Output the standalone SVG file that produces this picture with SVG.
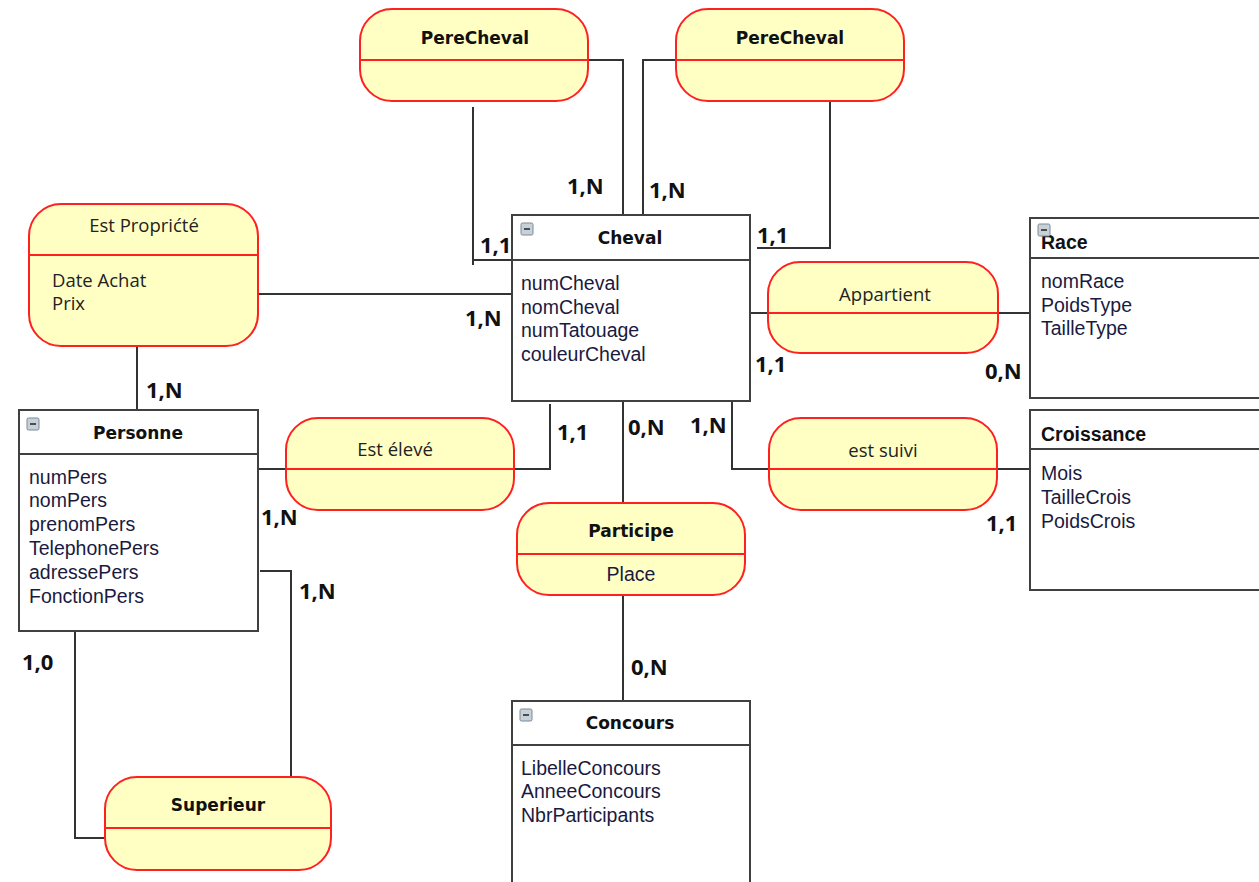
<svg xmlns="http://www.w3.org/2000/svg" width="1259" height="882" viewBox="0 0 1259 882">
<defs>
<style>
.ent{fill:#fff;stroke:#404040;stroke-width:2}
.rel{fill:#ffffc4;stroke:#ff2020;stroke-width:2}
.div{stroke:#ff2020;stroke-width:2}
.hdiv{stroke:#404040;stroke-width:2}
.con{fill:none;stroke:#333;stroke-width:2}
.att{font-family:"Liberation Sans",Arial,sans-serif;font-size:19.5px;fill:#1a1a40}
.rt{font-family:"Open Sans","Noto Sans",sans-serif;font-size:18.5px;fill:#222;text-anchor:middle}
.rb{font-family:"DejaVu Sans",sans-serif;font-weight:bold;font-size:17px;fill:#111;text-anchor:middle}
.eb{font-family:"DejaVu Sans",sans-serif;font-weight:bold;font-size:17px;fill:#111;text-anchor:middle}
.ea{font-family:"Liberation Sans",Arial,sans-serif;font-weight:bold;font-size:19.5px;fill:#111}
.card{font-family:"Open Sans","Noto Sans",sans-serif;font-weight:bold;font-size:22px;fill:#111}
</style>
<g id="minus">
<rect x="0" y="0" width="12" height="12" rx="1.5" fill="#c8d0d8" stroke="#7a8a98" stroke-width="1"/>
<line x1="3" y1="6" x2="9" y2="6" stroke="#222" stroke-width="1.5"/>
</g>
</defs>
<rect width="1259" height="882" fill="#fff"/>

<g id="connectors">
<polyline class="con" points="588,60 623,60 623,215"/>
<polyline class="con" points="473,107 473,265"/>
<polyline class="con" points="473,260 512,260"/>
<polyline class="con" points="676,60 643,60 643,215"/>
<polyline class="con" points="830,101 830,248 757,248"/>
<line class="con" x1="258" y1="294" x2="512" y2="294"/>
<line class="con" x1="137" y1="346" x2="137" y2="410"/>
<polyline class="con" points="258,469 550,469 550,404"/>
<polyline class="con" points="75,628 75,838 105,838"/>
<polyline class="con" points="260,571 291,571 291,780"/>
<line class="con" x1="748" y1="313" x2="1030" y2="313"/>
<polyline class="con" points="732,401 732,469 1030,469"/>
<line class="con" x1="623" y1="401" x2="623" y2="503"/>
<line class="con" x1="623" y1="595" x2="623" y2="701"/>
</g>

<g id="PereCheval1">
<rect class="rel" x="360" y="9" width="228" height="92" rx="32"/>
<line class="div" x1="360" y1="60" x2="588" y2="60"/>
<text class="rb" x="475" y="44">PereCheval</text>
</g>
<g id="PereCheval2">
<rect class="rel" x="676" y="9" width="228" height="92" rx="32"/>
<line class="div" x1="676" y1="60" x2="904" y2="60"/>
<text class="rb" x="790" y="44">PereCheval</text>
</g>

<g id="EstPropriete">
<rect class="rel" x="29" y="204" width="229" height="142" rx="32"/>
<line class="div" x1="29" y1="255" x2="258" y2="255"/>
<text class="rt" x="144" y="232">Est Proprićté</text>
<text class="rt" x="52" y="287" style="text-anchor:start">Date Achat</text>
<text class="rt" x="52" y="310" style="text-anchor:start">Prix</text>
</g>

<g id="Cheval">
<rect class="ent" x="512" y="215" width="238" height="186"/>
<line class="hdiv" x1="512" y1="260" x2="750" y2="260"/>
<use href="#minus" x="521" y="223"/>
<text class="eb" x="630" y="244">Cheval</text>
<text class="att" x="521" y="290">numCheval</text>
<text class="att" x="521" y="314">nomCheval</text>
<text class="att" x="521" y="337">numTatouage</text>
<text class="att" x="521" y="361">couleurCheval</text>
</g>

<g id="Personne">
<rect class="ent" x="19" y="410" width="239" height="221"/>
<line class="hdiv" x1="19" y1="454" x2="258" y2="454"/>
<use href="#minus" x="27" y="418"/>
<text class="eb" x="138" y="439">Personne</text>
<text class="att" x="29" y="484">numPers</text>
<text class="att" x="29" y="507">nomPers</text>
<text class="att" x="29" y="531">prenomPers</text>
<text class="att" x="29" y="555">TelephonePers</text>
<text class="att" x="29" y="579">adressePers</text>
<text class="att" x="29" y="603">FonctionPers</text>
</g>

<g id="EstEleve">
<rect class="rel" x="286" y="418" width="228" height="92" rx="32"/>
<line class="div" x1="286" y1="469" x2="514" y2="469"/>
<text class="rt" x="395" y="456">Est élevé</text>
</g>

<g id="Superieur">
<rect class="rel" x="105" y="777" width="226" height="93" rx="32"/>
<line class="div" x1="105" y1="828" x2="331" y2="828"/>
<text class="rb" x="218" y="811">Superieur</text>
</g>

<g id="Appartient">
<rect class="rel" x="768" y="262" width="230" height="91" rx="32"/>
<line class="div" x1="768" y1="313" x2="998" y2="313"/>
<text class="rt" x="885" y="301">Appartient</text>
</g>

<g id="Race">
<rect class="ent" x="1030" y="218" width="232" height="180"/>
<line class="hdiv" x1="1030" y1="258" x2="1262" y2="258"/>
<text class="ea" x="1041" y="249">Race</text>
<use href="#minus" x="1038" y="224"/>
<text class="att" x="1041" y="288">nomRace</text>
<text class="att" x="1041" y="312">PoidsType</text>
<text class="att" x="1041" y="335">TailleType</text>
</g>

<g id="Croissance">
<rect class="ent" x="1030" y="410" width="232" height="180"/>
<line class="hdiv" x1="1030" y1="449" x2="1262" y2="449"/>
<text class="ea" x="1041" y="441">Croissance</text>
<text class="att" x="1041" y="480">Mois</text>
<text class="att" x="1041" y="504">TailleCrois</text>
<text class="att" x="1041" y="528">PoidsCrois</text>
</g>

<g id="EstSuivi">
<rect class="rel" x="769" y="418" width="228" height="92" rx="32"/>
<line class="div" x1="769" y1="469" x2="997" y2="469"/>
<text class="rt" x="883" y="457">est suivi</text>
</g>

<g id="Participe">
<rect class="rel" x="517" y="503" width="228" height="92" rx="32"/>
<line class="div" x1="517" y1="554" x2="745" y2="554"/>
<text class="rb" x="631" y="537">Participe</text>
<text class="att" x="631" y="581" style="text-anchor:middle">Place</text>
</g>

<g id="Concours">
<rect class="ent" x="512" y="701" width="238" height="190"/>
<line class="hdiv" x1="512" y1="745" x2="750" y2="745"/>
<use href="#minus" x="520" y="709"/>
<text class="eb" x="630" y="729">Concours</text>
<text class="att" x="521" y="775">LibelleConcours</text>
<text class="att" x="521" y="798">AnneeConcours</text>
<text class="att" x="521" y="822">NbrParticipants</text>
</g>

<g id="cardinalities">
<text class="card" x="567" y="194">1,N</text>
<text class="card" x="649" y="198">1,N</text>
<text class="card" x="480" y="253">1,1</text>
<text class="card" x="757" y="243">1,1</text>
<text class="card" x="465" y="326">1,N</text>
<text class="card" x="146" y="398">1,N</text>
<text class="card" x="755" y="372">1,1</text>
<text class="card" x="985" y="379">0,N</text>
<text class="card" x="557" y="440">1,1</text>
<text class="card" x="628" y="435">0,N</text>
<text class="card" x="690" y="433">1,N</text>
<text class="card" x="261" y="525">1,N</text>
<text class="card" x="986" y="531">1,1</text>
<text class="card" x="299" y="599">1,N</text>
<text class="card" x="22" y="670">1,0</text>
<text class="card" x="631" y="675">0,N</text>
</g>
</svg>
